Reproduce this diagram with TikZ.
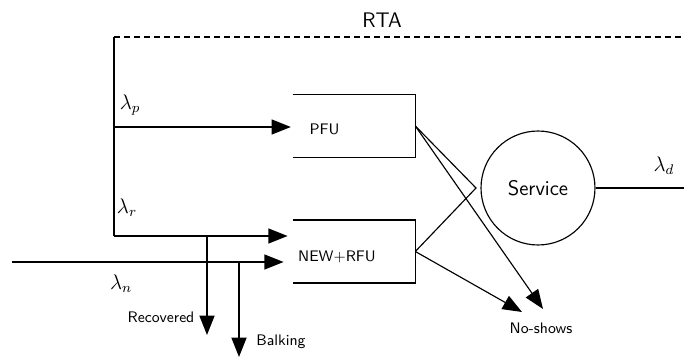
\documentclass[tikz,border=0pt]{standalone}
\usepackage{amsmath,amssymb}
\usepackage{tikz}
\usetikzlibrary{arrows.meta,positioning,calc}
\tikzset{
	arrow/.style={-{Triangle[length=11pt,width=8.5pt]}, line width=0.9pt},
	thinline/.style={line width=0.65pt},
	tinylabel/.style={font=\sffamily\fontsize{8.7}{10}\selectfont, inner sep=1pt},
	mathlabel/.style={font=\fontsize{12}{14}\selectfont, inner sep=1pt}
}

\begin{document}
\begin{tikzpicture}[x=0.02cm, y=-0.02cm,
	queuebox/.style={minimum width=2.44cm, minimum height=1.25cm, inner sep=0pt},
	bigtext/.style={font=\sffamily\fontsize{12}{14}\selectfont, inner sep=1pt},
	]
	\useasboundingbox (0,0) rectangle (684,358);

	%% -- Queues and server
	\node[queuebox] (pfu) at (354,126) {};
	\node[queuebox] (nbox) at (354,251.5) {};
	\draw[line width=0.9pt] (pfu.north west) -- (pfu.north east) -- (pfu.south east) -- (pfu.south west);
	\draw[line width=0.9pt] (nbox.north west) -- (nbox.north east) -- (nbox.south east) -- (nbox.south west);
	\node[tinylabel] (pfutxt) at (324.5,129) {PFU};
	\node[tinylabel] (ntxt) at (337,257) {NEW+RFU};

	\node[circle, draw, thinline, minimum size=2.28cm, bigtext] (serv) at (538,188) {Service};

	%% -- Junction points
	\coordinate (top) at (114,37);
	\coordinate (dend) at (684,37);
	\coordinate (pjoin) at (114,127);
	\coordinate (rjoin) at (114,236);
	\coordinate (nin) at (12,262);
	\coordinate (rec) at (207,335);
	\coordinate (bal) at (239,357);
	\coordinate (vtip) at (476,188);
	\coordinate (ns1) at (522,312);
	\coordinate (ns2) at (543,309);
	\coordinate (dout) at (684,188);

	%% -- RTA feedback
	\draw[line width=0.9pt, dash pattern=on 3.4pt off 2.3pt] (top) -- (dend);
	\draw[line width=0.9pt] (top) -- (rjoin);
	\node[bigtext] (rta) at (382,20) {RTA};

	%% -- Arrivals
	\draw[arrow, shorten >=1pt] (pjoin) -- (pjoin -| pfu.west);
	\draw[arrow, shorten >=0.1cm] (rjoin) -- (rjoin -| nbox.west);
	\draw[arrow, shorten >=0.18cm] (nin) -- (nin -| nbox.west);
	\node[mathlabel] (lp) at (130,105) {$\lambda_p$};
	\node[mathlabel] (lr) at (127,208) {$\lambda_r$};
	\node[mathlabel] (ln) at (121,284) {$\lambda_n$};

	%% -- Losses before queueing
	\draw[arrow] (rec |- rjoin) -- (rec);
	\draw[arrow] (bal |- nin) -- (bal);
	\node[tinylabel] (rectxt) at (161,317) {Recovered};
	\node[tinylabel] (baltxt) at (281,342) {Balking};

	%% -- To service and no-shows
	\draw[thinline] (pfu.east) -- (vtip) -- (nbox.east);
	\draw[arrow, line width=0.65pt] (pfu.east) -- (ns2);
	\draw[arrow, line width=0.65pt] (nbox.east) -- (ns1);
	\node[tinylabel] (nstxt) at (541,328) {No-shows};

	%% -- Departures
	\draw[thinline] (serv.east) -- (dout);
	\node[mathlabel] (ld) at (664,166) {$\lambda_d$};

\end{tikzpicture}
\end{document}
